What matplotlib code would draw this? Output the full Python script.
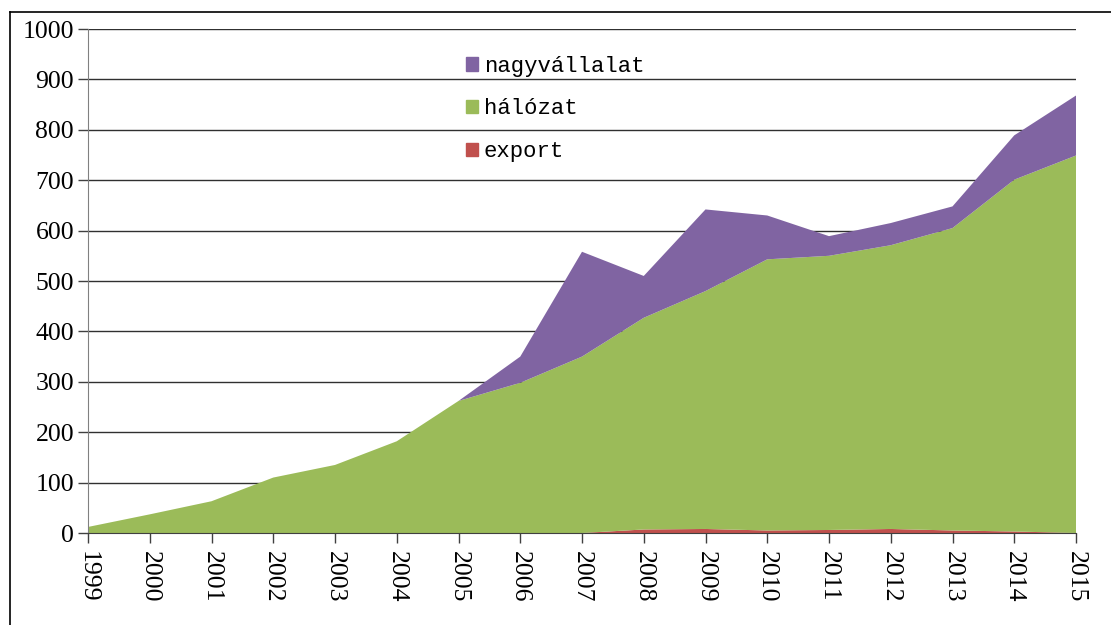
import matplotlib.pyplot as plt
import numpy as np
from matplotlib.patches import Patch
from matplotlib.lines import Line2D

years = list(range(1999, 2016))
export = [0, 0, 0, 0, 0, 0, 0, 0, 0, 7, 8, 5, 6, 8, 5, 3, 0]
halozat = [12, 37, 63, 110, 135, 182, 262, 298, 350, 420, 472, 538, 544, 563, 600, 698, 749]
nagyvallalat = [0, 0, 0, 0, 0, 0, 0, 52, 208, 83, 162, 87, 39, 44, 43, 88, 119]

c_export = '#C0504D'
c_halozat = '#9BBB59'
c_nagy = '#8064A2'

serif = ['Liberation Serif', 'DejaVu Serif']
mono = ['Liberation Mono', 'DejaVu Sans Mono']

fig = plt.figure(figsize=(11.11, 6.25), dpi=100)
ax = fig.add_axes([88 / 1111, 1 - 533 / 625, 988 / 1111, 504 / 625])

ax.stackplot(years, export, halozat, nagyvallalat,
             colors=[c_export, c_halozat, c_nagy], zorder=2)

ax.set_xlim(1999, 2015)
ax.set_ylim(0, 1000)
ax.set_yticks(np.arange(0, 1001, 100))
ax.set_xticks(years)
ax.set_xticklabels([str(y) for y in years], rotation=-90, fontfamily=serif, fontsize=18.5)
ax.set_yticklabels([str(v) for v in range(0, 1001, 100)], fontfamily=serif, fontsize=18.5)
ax.yaxis.grid(True, color='#303030', linewidth=1, zorder=0)
ax.set_axisbelow(True)
ax.tick_params(axis='both', direction='out', length=7, width=1, color='#404040', pad=3)
ax.tick_params(axis='x', pad=6)

for s in ['top', 'right']:
    ax.spines[s].set_visible(False)
ax.spines['left'].set_color('#808080')
ax.spines['bottom'].set_color('#404040')

handles = [Patch(color=c_nagy), Patch(color=c_halozat), Patch(color=c_export)]
leg = ax.legend(handles, ['nagyvállalat', 'hálózat', 'export'],
                loc='upper left', bbox_to_anchor=(0.3826, 0.947), frameon=False,
                prop={'family': mono, 'size': 16}, handlelength=0.55, handleheight=0.55,
                handletextpad=0.25, labelspacing=0.98, borderpad=0, borderaxespad=0)

# outer frame (top and left visible)
fig.add_artist(Line2D([10 / 1111, 1.0], [1 - 12 / 625, 1 - 12 / 625], color='black', lw=1.2))
fig.add_artist(Line2D([10 / 1111, 10 / 1111], [0, 1 - 12 / 625], color='black', lw=1.2))

fig.savefig('out.png', dpi=100)
